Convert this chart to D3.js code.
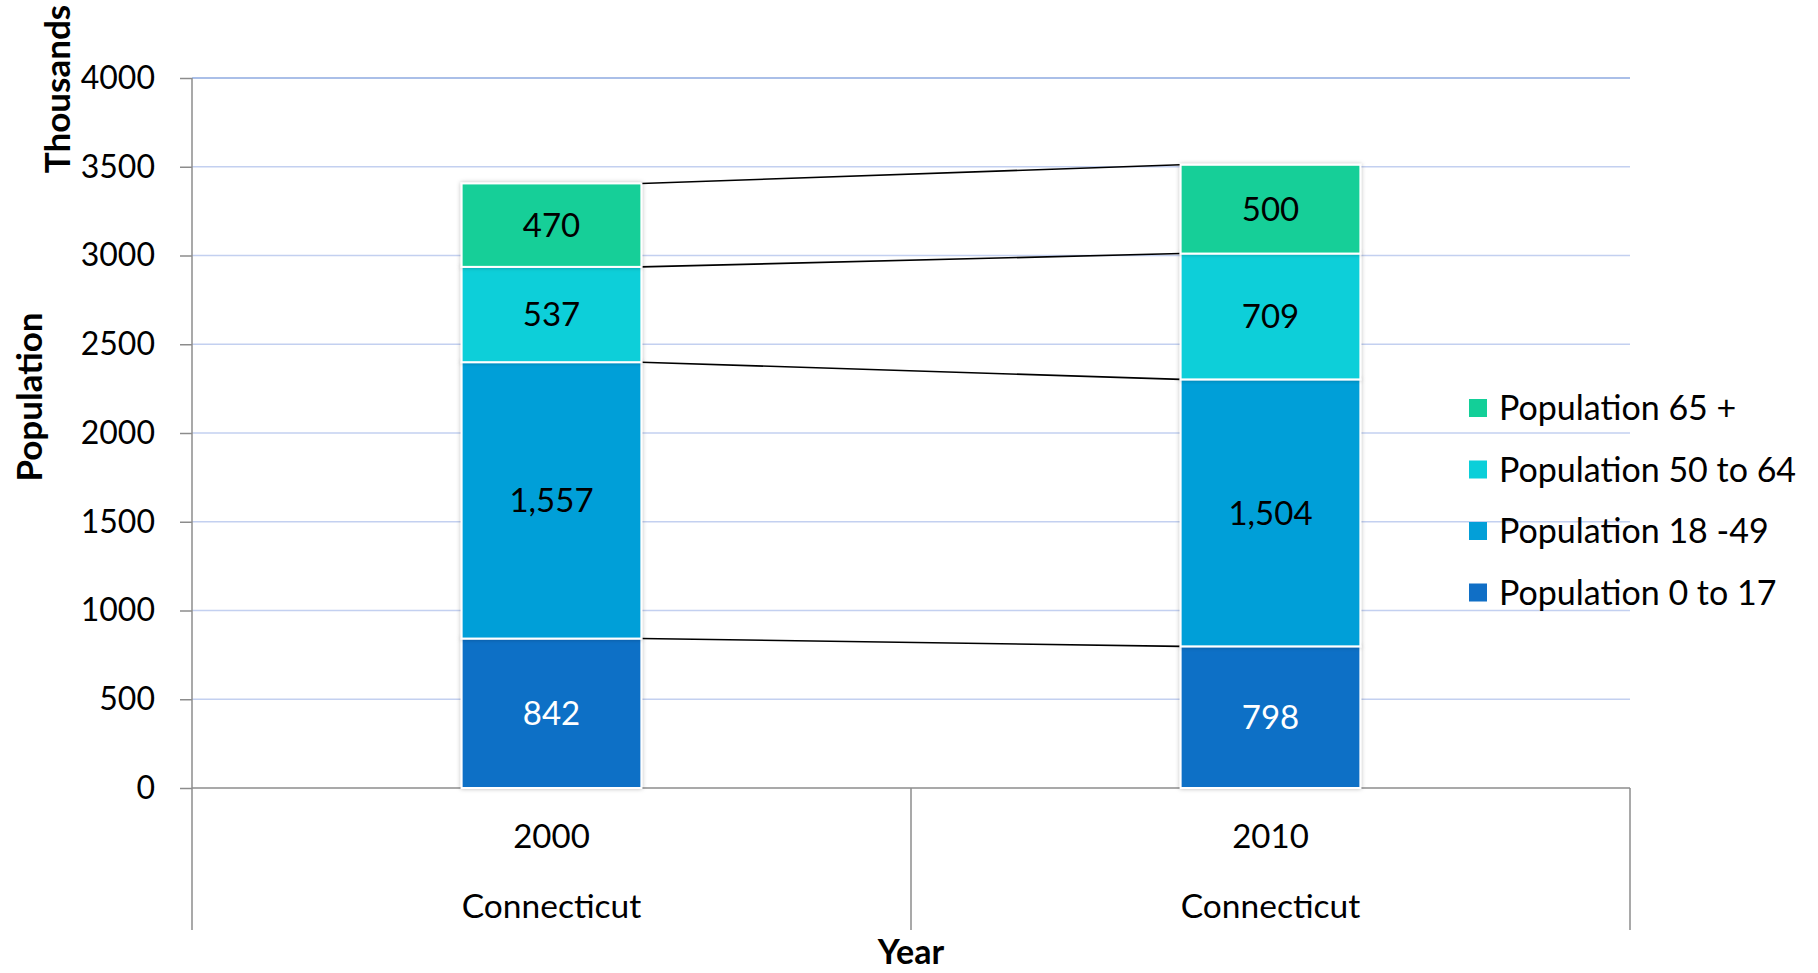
<!DOCTYPE html>
<html>
<head>
<meta charset="utf-8">
<script src="https://cdn.jsdelivr.net/npm/d3@7"></script>
<style>
  html, body { margin: 0; padding: 0; background: #fff; }
  svg { display: block; font-family: Lato, "Open Sans", sans-serif; }
</style>
</head>
<body>
<svg id="chart" width="1818" height="973"></svg>
<script>
// Connecticut population by age group, in thousands
const years = ["2000", "2010"];
const region = "Connecticut";
const seriesNames = ["Population 0 to 17", "Population 18 -49", "Population 50 to 64", "Population 65 +"];
const pop0to17 = [842, 798];
const pop18to49 = [1557, 1504];
const pop50to64 = [537, 709];
const pop65plus = [470, 500];
const yTicks = [0, 500, 1000, 1500, 2000, 2500, 3000, 3500, 4000];
const seriesColors = ["#106fc6", "#039fd8", "#0bcfd9", "#13cf98"];
const labelColors = ["#ffffff", "#000000", "#000000", "#000000"];

const seriesValues = [pop0to17, pop18to49, pop50to64, pop65plus];
const rows = years.map((yr, i) => {
  const r = { year: yr };
  seriesNames.forEach((s, k) => { r[s] = seriesValues[k][i]; });
  return r;
});
const stacked = d3.stack().keys(seriesNames)(rows);

const svg = d3.select("#chart");
const plotLeft = 192, plotRight = 1630, plotTop = 78, plotBottom = 788, axisFoot = 930;

const x = d3.scaleBand().domain(years).range([plotLeft, plotRight]).paddingInner(0).paddingOuter(0);
const barW = x.bandwidth() * 0.25;
const y = d3.scaleLinear().domain([0, 4000]).range([plotBottom, plotTop]);

const defs = svg.append("defs");
const f = defs.append("filter").attr("id", "shadow").attr("x", "-10%").attr("y", "-10%").attr("width", "120%").attr("height", "120%");
f.append("feDropShadow").attr("dx", 0).attr("dy", 0).attr("stdDeviation", 2).attr("flood-color", "#000").attr("flood-opacity", 0.28);

// horizontal gridlines
svg.append("g").selectAll("line").data(yTicks.filter(t => t > 0)).join("line")
  .attr("x1", plotLeft).attr("x2", plotRight)
  .attr("y1", d => y(d)).attr("y2", d => y(d))
  .attr("stroke", d => d === 4000 ? "#8eaae0" : "#c3d0f0")
  .attr("stroke-width", 1.5);

// left value axis
const yAxis = svg.append("g").attr("transform", `translate(${plotLeft},0)`)
  .call(d3.axisLeft(y).tickValues(yTicks).tickSizeInner(12).tickSizeOuter(0).tickPadding(25).tickFormat(d3.format("d")));
yAxis.select(".domain").remove();
yAxis.selectAll(".tick line").attr("stroke", "#8c8c8c").attr("stroke-width", 1.5);
yAxis.selectAll(".tick text").attr("font-size", 32).attr("fill", "#000").attr("font-family", "Lato, sans-serif");

// axis lines and category separators
const axisStroke = "#8c8c8c";
svg.append("line").attr("x1", plotLeft).attr("x2", plotLeft).attr("y1", plotTop).attr("y2", axisFoot).attr("stroke", axisStroke).attr("stroke-width", 1.5);
svg.append("line").attr("x1", plotLeft).attr("x2", plotRight).attr("y1", plotBottom).attr("y2", plotBottom).attr("stroke", axisStroke).attr("stroke-width", 1.5);
[x(years[1]), plotRight].forEach(px => {
  svg.append("line").attr("x1", px).attr("x2", px).attr("y1", plotBottom).attr("y2", axisFoot).attr("stroke", axisStroke).attr("stroke-width", 1.5);
});

// series lines joining segment boundaries across the two bars
const x0r = x(years[0]) + x.bandwidth() / 2 + barW / 2;
const x1l = x(years[1]) + x.bandwidth() / 2 - barW / 2;
svg.append("g").selectAll("line").data(stacked).join("line")
  .attr("x1", x0r).attr("x2", x1l)
  .attr("y1", s => y(s[0][1])).attr("y2", s => y(s[1][1]))
  .attr("stroke", "#000").attr("stroke-width", 1.6);

// stacked bars
const barG = svg.append("g");
stacked.forEach((s, k) => {
  barG.selectAll(null).data(s).join("rect")
    .attr("x", d => x(d.data.year) + x.bandwidth() / 2 - barW / 2)
    .attr("width", barW)
    .attr("y", d => y(d[1]))
    .attr("height", d => y(d[0]) - y(d[1]))
    .attr("fill", seriesColors[k])
    .attr("stroke", "#fff").attr("stroke-width", 2)
    .attr("filter", "url(#shadow)");
});
stacked.forEach((s, k) => {
  barG.selectAll(null).data(s).join("text")
    .attr("x", d => x(d.data.year) + x.bandwidth() / 2)
    .attr("y", d => (y(d[0]) + y(d[1])) / 2)
    .attr("dy", "0.36em")
    .attr("text-anchor", "middle")
    .attr("font-size", 33)
    .attr("fill", labelColors[k])
    .text(d => d3.format(",")(d[1] - d[0]));
});

// category labels
years.forEach(yr => {
  const cx = x(yr) + x.bandwidth() / 2;
  svg.append("text").attr("x", cx).attr("y", 836).attr("dy", "0.36em").attr("text-anchor", "middle").attr("font-size", 33).text(yr);
  svg.append("text").attr("x", cx).attr("y", 906).attr("dy", "0.36em").attr("text-anchor", "middle").attr("font-size", 33.5).text(region);
});

// axis titles
svg.append("text").attr("transform", "translate(57,89) rotate(-90)").attr("dy", "0.36em").attr("text-anchor", "middle").attr("font-size", 35).attr("font-weight", "bold").text("Thousands");
svg.append("text").attr("transform", "translate(29,397) rotate(-90)").attr("dy", "0.36em").attr("text-anchor", "middle").attr("font-size", 35).attr("font-weight", "bold").text("Population");
svg.append("text").attr("x", x(years[1])).attr("y", 952).attr("dy", "0.36em").attr("text-anchor", "middle").attr("font-size", 34).attr("font-weight", "bold").text("Year");

// legend, top entry is the last stacked series
const legendOrder = seriesNames.slice().reverse();
const legend = svg.append("g").selectAll("g").data(legendOrder).join("g")
  .attr("transform", (d, i) => `translate(1469,${408 + i * 61.5})`);
legend.append("rect").attr("x", 0).attr("y", -9).attr("width", 18).attr("height", 18)
  .attr("fill", d => seriesColors[seriesNames.indexOf(d)]);
legend.append("text").attr("x", 30).attr("y", 0).attr("dy", "0.36em").attr("font-size", 34).text(d => d);
</script>
</body>
</html>
